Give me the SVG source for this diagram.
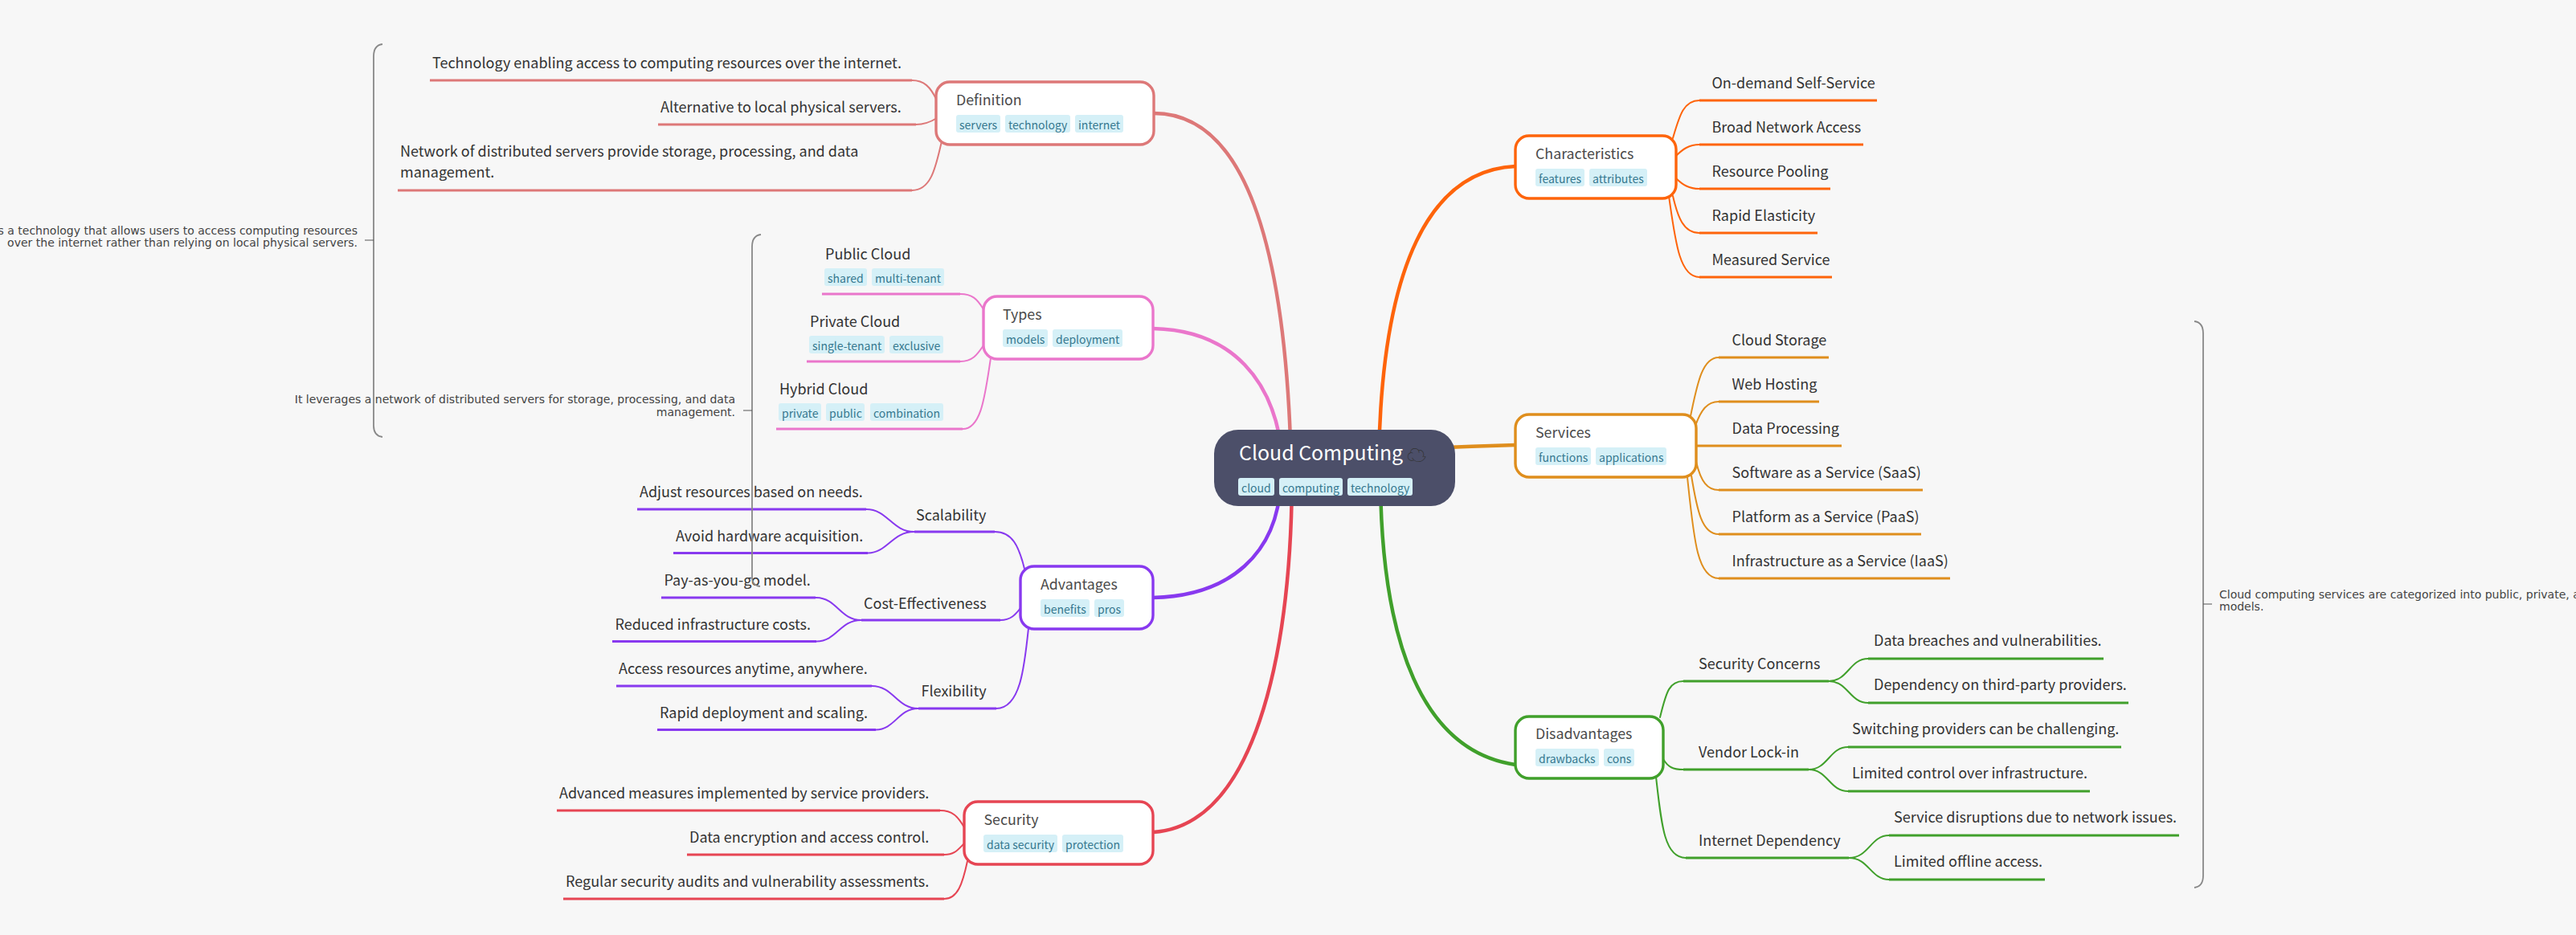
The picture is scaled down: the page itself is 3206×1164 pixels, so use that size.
<svg xmlns="http://www.w3.org/2000/svg" width="3206" height="1164" viewBox="0 0 3206 1164">
<style>
text{font-family:"Noto Sans CJK SC","Noto Sans",sans-serif}
.bg{fill:#f7f7f7}
.t{font-size:17.800px;fill:#4a4a4a}
.l{font-size:18px;fill:#333}
.tag{fill:#d5f0f7}
.tt{font-size:14px;fill:#35788f}
.note{font-family:"DejaVu Sans",sans-serif;font-size:14px;fill:#444}
.box{fill:#fff;stroke-width:3.400}
.c,.h,.m{fill:none;stroke-linecap:round}
.c{stroke-width:2}.h{stroke-width:3;stroke-linecap:butt}.m{stroke-width:4.500}
.br{fill:none;stroke:#888;stroke-width:1.800}
.tk{fill:none;stroke:#555;stroke-width:1}
.a{stroke:#dd7878}.b{stroke:#ea76cb}.d{stroke:#8839ef}.e{stroke:#e64553}.f{stroke:#fe640b}.g{stroke:#df8e1d}.i{stroke:#40a02b}
</style>
<rect class="bg" width="3206" height="1164"/>
<g id="connectors">
<path class="m a" d="M1436 141C1540 141 1600 280 1607 580"/>
<path class="m b" d="M1435 409C1530 411 1590 470 1597 580"/>
<path class="m d" d="M1435 744C1530 742 1590 690 1594 600"/>
<path class="m e" d="M1435 1036C1560 1028 1606 820 1608 600"/>
<path class="m f" d="M1886 207C1780 212 1720 330 1716 570"/>
<path class="m g" d="M1886 554C1850 555 1830 556 1800 557"/>
<path class="m i" d="M1886 952C1770 935 1720 800 1718 600"/>
<path class="c a" d="M1135 100C1150 100 1158 108 1166 125"/><path class="h a" d="M535 100H1135"/>
<path class="c a" d="M1140 155C1150 155 1158 152 1166 147"/><path class="h a" d="M819 155H1140"/>
<path class="c a" d="M1135 237C1160 237 1165 205 1172 176"/><path class="h a" d="M495 237H1135"/>
<path class="c b" d="M1195 366C1210 366 1216 372 1224 385"/><path class="h b" d="M1023 366H1195"/>
<path class="c b" d="M1195 450C1210 450 1216 442 1224 430"/><path class="h b" d="M1004 450H1195"/>
<path class="c b" d="M1198 534C1222 534 1226 490 1233 446"/><path class="h b" d="M966 534H1198"/>
<path class="c d" d="M1238 662C1260 662 1268 680 1275 708"/><path class="h d" d="M1138 662H1238"/>
<path class="c d" d="M1245 772C1258 772 1264 765 1270 757"/><path class="h d" d="M1072 772H1245"/>
<path class="c d" d="M1240 882C1270 882 1275 830 1280 782"/><path class="h d" d="M1143 882H1240"/>
<path class="c d" d="M1078 634C1105 634 1110 662 1138 662"/><path class="h d" d="M793 634H1078"/>
<path class="c d" d="M1080 688.500C1105 688 1110 662 1138 662"/><path class="h d" d="M838 688.500H1080"/>
<path class="c d" d="M1015 744C1042 744 1045 772 1072 772"/><path class="h d" d="M823 744H1015"/>
<path class="c d" d="M1016 798.500C1042 798 1045 772 1072 772"/><path class="h d" d="M762 798.500H1016"/>
<path class="c d" d="M1085 854C1112 854 1116 882 1143 882"/><path class="h d" d="M767 854H1085"/>
<path class="c d" d="M1090 908.500C1114 908 1118 882 1143 882"/><path class="h d" d="M818 908.500H1090"/>
<path class="c e" d="M1170 1009C1185 1009 1192 1016 1200 1030"/><path class="h e" d="M693 1009H1170"/>
<path class="c e" d="M1175 1064C1188 1064 1192 1058 1200 1050"/><path class="h e" d="M855 1064H1175"/>
<path class="c e" d="M1175 1119C1192 1119 1198 1100 1204 1072"/><path class="h e" d="M701 1119H1175"/>
<path class="c f" d="M2115 125C2095 125 2090 145 2082 172"/><path class="h f" d="M2115 125H2336"/>
<path class="c f" d="M2115 180C2102 180 2094 186 2086 194"/><path class="h f" d="M2115 180H2319"/>
<path class="c f" d="M2115 235C2102 235 2094 230 2086 222"/><path class="h f" d="M2115 235H2278"/>
<path class="c f" d="M2115 290C2095 290 2088 270 2082 244"/><path class="h f" d="M2115 290H2262"/>
<path class="c f" d="M2115 345C2090 345 2085 300 2077 244"/><path class="h f" d="M2115 345H2280"/>
<path class="c g" d="M2139 445C2118 445 2112 480 2104 518"/><path class="h g" d="M2139 445H2276"/>
<path class="c g" d="M2139 500C2125 500 2117 510 2110 530"/><path class="h g" d="M2139 500H2264"/>
<path class="h g" d="M2111 555H2292"/>
<path class="c g" d="M2139 610C2125 610 2117 600 2111 575"/><path class="h g" d="M2139 610H2393"/>
<path class="c g" d="M2139 665C2118 665 2112 635 2105 592"/><path class="h g" d="M2139 665H2391"/>
<path class="c g" d="M2139 720C2112 720 2108 670 2100 594"/><path class="h g" d="M2139 720H2427"/>
<path class="c i" d="M2095 848C2078 848 2074 860 2066 893"/><path class="h i" d="M2095 848H2276"/>
<path class="c i" d="M2095 958C2082 958 2076 955 2070 945"/><path class="h i" d="M2095 958H2251"/>
<path class="c i" d="M2098 1068C2072 1068 2068 1030 2061 967"/><path class="h i" d="M2098 1068H2301"/>
<path class="c i" d="M2276 848C2300 848 2302 820 2325 820"/><path class="h i" d="M2325 820H2618"/>
<path class="c i" d="M2276 848C2300 848 2302 875 2325 875"/><path class="h i" d="M2325 875H2649"/>
<path class="c i" d="M2251 958C2275 958 2277 930 2300 930"/><path class="h i" d="M2300 930H2640"/>
<path class="c i" d="M2251 958C2275 958 2277 985 2300 985"/><path class="h i" d="M2300 985H2601"/>
<path class="c i" d="M2301 1068C2326 1068 2328 1040 2351 1040"/><path class="h i" d="M2351 1040H2712"/>
<path class="c i" d="M2301 1068C2326 1068 2328 1095 2351 1095"/><path class="h i" d="M2351 1095H2545"/>
</g>
<g id="root">
<rect x="1511" y="535" width="300" height="95" rx="30" fill="#4c4f69"/>
<text x="1542" y="573" font-size="24.900" fill="#fff">Cloud Computing</text>
<text x="1751" y="575" font-size="24" fill="#333" style="font-family:'Noto Sans CJK JP',sans-serif">☁</text>
<rect class="tag" x="1541" y="595" width="45" height="22" rx="3"/><text class="tt" x="1545" y="613">cloud</text>
<rect class="tag" x="1592" y="595" width="79" height="22" rx="3"/><text class="tt" x="1596" y="613">computing</text>
<rect class="tag" x="1677" y="595" width="81" height="22" rx="3"/><text class="tt" x="1681" y="613">technology</text>
</g>
<g id="definition">
<rect class="box a" x="1165" y="102" width="271" height="78" rx="17"/>
<text class="t" x="1190" y="131">Definition</text>
<rect class="tag" x="1190" y="143" width="55" height="22" rx="3"/><text class="tt" x="1194" y="161">servers</text>
<rect class="tag" x="1251" y="143" width="81" height="22" rx="3"/><text class="tt" x="1255" y="161">technology</text>
<rect class="tag" x="1338" y="143" width="60" height="22" rx="3"/><text class="tt" x="1342" y="161">internet</text>
<text class="l" x="538" y="85">Technology enabling access to computing resources over the internet.</text>
<text class="l" x="822" y="139.500">Alternative to local physical servers.</text>
<text class="l" x="498" y="195">Network of distributed servers provide storage, processing, and data</text>
<text class="l" x="498" y="221">management.</text>
</g>
<g id="types">
<rect class="box b" x="1224" y="369" width="211" height="78" rx="17"/>
<text class="t" x="1248" y="398">Types</text>
<rect class="tag" x="1248" y="410" width="56" height="22" rx="3"/><text class="tt" x="1252" y="428">models</text>
<rect class="tag" x="1310" y="410" width="87" height="22" rx="3"/><text class="tt" x="1314" y="428">deployment</text>
<text class="l" x="1027" y="323">Public Cloud</text>
<rect class="tag" x="1026" y="334" width="53" height="22" rx="3"/><text class="tt" x="1030" y="352">shared</text>
<rect class="tag" x="1085" y="334" width="90" height="22" rx="3"/><text class="tt" x="1089" y="352">multi-tenant</text>
<text class="l" x="1008" y="407">Private Cloud</text>
<rect class="tag" x="1007" y="418" width="94" height="22" rx="3"/><text class="tt" x="1011" y="436">single-tenant</text>
<rect class="tag" x="1107" y="418" width="67" height="22" rx="3"/><text class="tt" x="1111" y="436">exclusive</text>
<text class="l" x="970" y="491">Hybrid Cloud</text>
<rect class="tag" x="969" y="502" width="53" height="22" rx="3"/><text class="tt" x="973" y="520">private</text>
<rect class="tag" x="1028" y="502" width="48" height="22" rx="3"/><text class="tt" x="1032" y="520">public</text>
<rect class="tag" x="1083" y="502" width="91" height="22" rx="3"/><text class="tt" x="1087" y="520">combination</text>
</g>
<g id="advantages">
<rect class="box d" x="1270" y="705" width="165" height="78" rx="17"/>
<text class="t" x="1295" y="734">Advantages</text>
<rect class="tag" x="1295" y="746" width="61" height="22" rx="3"/><text class="tt" x="1299" y="764">benefits</text>
<rect class="tag" x="1362" y="746" width="37" height="22" rx="3"/><text class="tt" x="1366" y="764">pros</text>
<text class="l" x="1140" y="647.500">Scalability</text>
<text class="l" x="1075" y="757.500">Cost-Effectiveness</text>
<text class="l" x="1146.500" y="867">Flexibility</text>
<text class="l" x="796" y="619">Adjust resources based on needs.</text>
<text class="l" x="841" y="674">Avoid hardware acquisition.</text>
<text class="l" x="826.500" y="729">Pay-as-you-go model.</text>
<text class="l" x="765.500" y="784">Reduced infrastructure costs.</text>
<text class="l" x="770" y="839">Access resources anytime, anywhere.</text>
<text class="l" x="821" y="894">Rapid deployment and scaling.</text>
</g>
<g id="security">
<rect class="box e" x="1200" y="998" width="235" height="78" rx="17"/>
<text class="t" x="1224.500" y="1027">Security</text>
<rect class="tag" x="1224" y="1039" width="92" height="22" rx="3"/><text class="tt" x="1228" y="1057">data security</text>
<rect class="tag" x="1322" y="1039" width="76" height="22" rx="3"/><text class="tt" x="1326" y="1057">protection</text>
<text class="l" x="696" y="994">Advanced measures implemented by service providers.</text>
<text class="l" x="858" y="1049">Data encryption and access control.</text>
<text class="l" x="704" y="1104">Regular security audits and vulnerability assessments.</text>
</g>
<g id="characteristics">
<rect class="box f" x="1886" y="169" width="200" height="78" rx="17"/>
<text class="t" x="1911" y="197.500">Characteristics</text>
<rect class="tag" x="1911" y="210" width="61" height="22" rx="3"/><text class="tt" x="1915" y="228">features</text>
<rect class="tag" x="1978" y="210" width="72" height="22" rx="3"/><text class="tt" x="1982" y="228">attributes</text>
<text class="l" x="2130.500" y="110">On-demand Self-Service</text>
<text class="l" x="2130.500" y="165">Broad Network Access</text>
<text class="l" x="2130.500" y="220">Resource Pooling</text>
<text class="l" x="2130.500" y="275">Rapid Elasticity</text>
<text class="l" x="2130.500" y="330">Measured Service</text>
</g>
<g id="services">
<rect class="box g" x="1886" y="516" width="225" height="78" rx="17"/>
<text class="t" x="1911" y="545">Services</text>
<rect class="tag" x="1911" y="557" width="69" height="22" rx="3"/><text class="tt" x="1915" y="575">functions</text>
<rect class="tag" x="1986" y="557" width="88" height="22" rx="3"/><text class="tt" x="1990" y="575">applications</text>
<text class="l" x="2155.500" y="430">Cloud Storage</text>
<text class="l" x="2155.500" y="485">Web Hosting</text>
<text class="l" x="2155.500" y="540">Data Processing</text>
<text class="l" x="2155.500" y="595">Software as a Service (SaaS)</text>
<text class="l" x="2155.500" y="650">Platform as a Service (PaaS)</text>
<text class="l" x="2155.500" y="705">Infrastructure as a Service (IaaS)</text>
</g>
<g id="disadvantages">
<rect class="box i" x="1886" y="892" width="184" height="77" rx="17"/>
<text class="t" x="1911" y="920">Disadvantages</text>
<rect class="tag" x="1911" y="932" width="79" height="22" rx="3"/><text class="tt" x="1915" y="950">drawbacks</text>
<rect class="tag" x="1996" y="932" width="38" height="22" rx="3"/><text class="tt" x="2000" y="950">cons</text>
<text class="l" x="2114" y="833">Security Concerns</text>
<text class="l" x="2114" y="943">Vendor Lock-in</text>
<text class="l" x="2114" y="1053">Internet Dependency</text>
<text class="l" x="2332" y="804">Data breaches and vulnerabilities.</text>
<text class="l" x="2332" y="859">Dependency on third-party providers.</text>
<text class="l" x="2305" y="914">Switching providers can be challenging.</text>
<text class="l" x="2305" y="969">Limited control over infrastructure.</text>
<text class="l" x="2357" y="1024">Service disruptions due to network issues.</text>
<text class="l" x="2357" y="1079">Limited offline access.</text>
</g>
<g id="notes">
<path class="br" d="M476 55C468 56 465 62 465 70V530C465 538 468 543 476 544"/><path class="tk" d="M454 299H465"/>
<text class="note" x="445" y="292" text-anchor="end">Cloud computing is a technology that allows users to access computing resources</text>
<text class="note" x="445" y="307" text-anchor="end">over the internet rather than relying on local physical servers.</text>
<path class="br" d="M947 292C939 293 936 299 936 307V718C936 726 939 729 946 730"/><path class="tk" d="M925 511H936"/>
<text class="note" x="915" y="502" text-anchor="end">It leverages a network of distributed servers for storage, processing, and data</text>
<text class="note" x="915" y="518" text-anchor="end">management.</text>
<path class="br" d="M2731 400C2739 401 2742 407 2742 415V1090C2742 1098 2739 1104 2731 1105"/><path class="tk" d="M2742 752H2753"/>
<text class="note" x="2762" y="745">Cloud computing services are categorized into public, private, and hybrid</text>
<text class="note" x="2762" y="760">models.</text>
</g>
</svg>
